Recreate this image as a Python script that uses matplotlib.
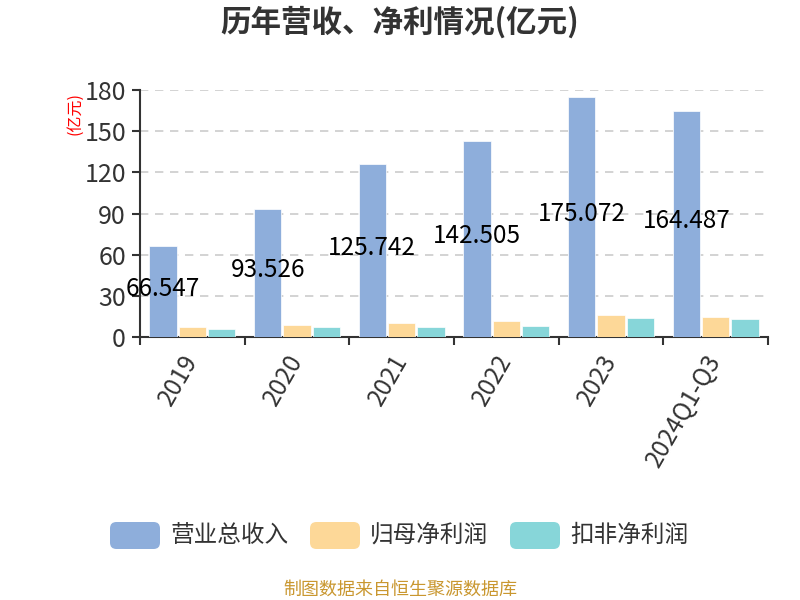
import numpy as np
import matplotlib
matplotlib.use('Agg')
import matplotlib.pyplot as plt
from matplotlib.patches import FancyBboxPatch

plt.rcParams['font.family'] = ['Noto Sans CJK SC', 'DejaVu Sans']

# 数据
years = ['2019', '2020', '2021', '2022', '2023', '2024Q1-Q3']
revenue = [66.547, 93.526, 125.742, 142.505, 175.072, 164.487]
net_profit = [7.5, 9.0, 10.1, 12.0, 16.3, 14.9]
deducted_profit = [6.0, 7.5, 7.5, 8.3, 13.8, 13.4]
series_names = ['营业总收入', '归母净利润', '扣非净利润']
colors = ['#8eaedb', '#fdd898', '#87d6d9']

fig = plt.figure(figsize=(8, 6), dpi=100)
ax = fig.add_axes([0.175, 0.4383, 0.785, 0.4117])

x = np.arange(len(years)) + 0.5
w = 0.26
off = 0.28
for i, vals in enumerate([revenue, net_profit, deducted_profit]):
    ax.bar(x + (i - 1) * off, vals, width=w, color=colors[i],
           edgecolor='white', linewidth=0.5, zorder=3)

# 营收数值标签
for xi, v in zip(x, revenue):
    ax.text(xi - off, v / 2 + 2, f'{v:.3f}', ha='center', va='center',
            fontsize=17.5, color='black', zorder=4)

ax.set_xlim(0, len(years))
ax.set_ylim(0, 180)
ax.set_yticks(np.arange(0, 181, 30))
ax.set_xticks(x)
ax.set_xticklabels(years, rotation=60, ha='right', va='center',
                   rotation_mode='anchor')
ax.set_xticks(np.arange(len(years) + 1), minor=True)
ax.tick_params(axis='x', which='major', length=0, pad=14, labelsize=17.5,
               labelcolor='#333333')
ax.tick_params(axis='x', which='minor', length=6, width=1.5, color='#333333')
ax.tick_params(axis='y', length=6, width=1.5, color='#333333', pad=4,
               labelsize=18, labelcolor='#333333')

for yv in np.arange(30, 181, 30):
    ax.axhline(yv, color='#cccccc', linestyle=(0, (5, 4)), linewidth=1.2,
               zorder=1)

for s in ['top', 'right']:
    ax.spines[s].set_visible(False)
for s in ['left', 'bottom']:
    ax.spines[s].set_color('#333333')
    ax.spines[s].set_linewidth(1.5)

# 标题与单位
fig.text(0.5, 0.962, '历年营收、净利情况(亿元)', ha='center', va='center',
         fontsize=22, fontweight='bold', color='#333333')
fig.text(0.094, 0.81, '(亿元)', ha='center', va='center', rotation=90,
         fontsize=11.5, color='red')

# 图例
legend_x = [0.1375, 0.3875, 0.6375]
for lx, name, c in zip(legend_x, series_names, colors):
    fig.patches.append(FancyBboxPatch((lx, 0.085), 0.0625, 0.045,
                                      boxstyle='round,pad=0,rounding_size=0.008',
                                      transform=fig.transFigure,
                                      facecolor=c, edgecolor='none',
                                      mutation_aspect=800 / 600))
    fig.text(lx + 0.075, 0.108, name, ha='left', va='center', fontsize=17,
             color='#333333')

fig.text(0.5, 0.017, '制图数据来自恒生聚源数据库', ha='center', va='center',
         fontsize=13, color='#c9972f')

fig.savefig('out.png', dpi=100)
